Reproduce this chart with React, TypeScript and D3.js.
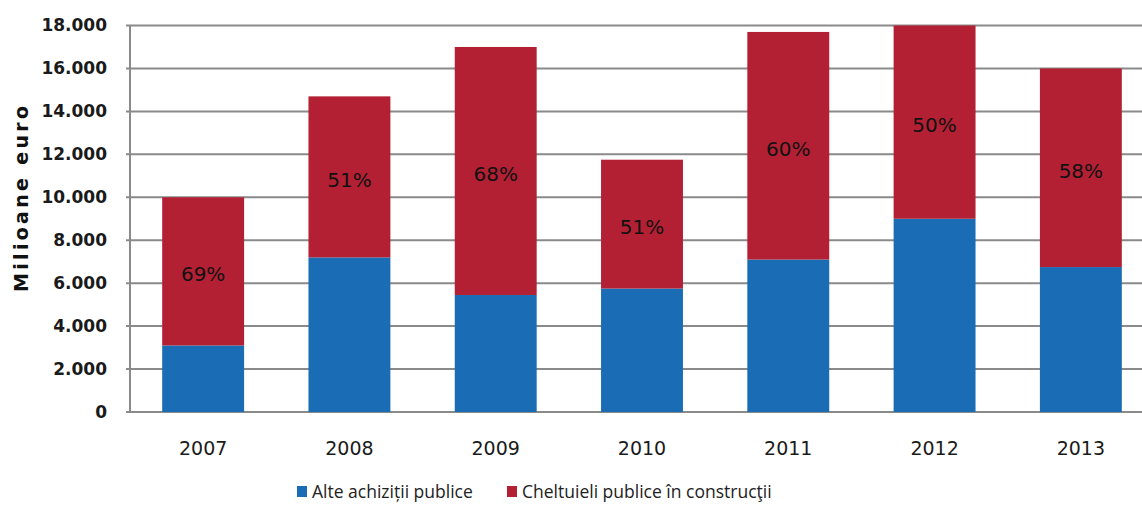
import React from "react";
import * as d3 from "d3";

const years = ["2007", "2008", "2009", "2010", "2011", "2012", "2013"];
const alteAchizitii = [3100, 7200, 5450, 5750, 7100, 9000, 6750];
const totalValues = [10000, 14700, 17000, 11750, 17700, 18000, 16000];
const pctLabels = ["69%", "51%", "68%", "51%", "60%", "50%", "58%"];
const yTicks = [0, 2000, 4000, 6000, 8000, 10000, 12000, 14000, 16000, 18000];
const seriesNames = ["Alte achiziții publice", "Cheltuieli publice în construcţii"];

const W = 1142;
const H = 508;
const BLUE = "#1a6db4";
const RED = "#b32034";

const fmt = (v: number) =>
  v === 0 ? "0" : d3.format(",")(v).replace(/,/g, ".");

export default function App() {
  const left = 130;
  const top = 25.5;
  const bottom = 412;
  const x = d3.scaleBand<string>().domain(years).range([left, 1154]).paddingInner(0.44).paddingOuter(0.22);
  const y = d3.scaleLinear().domain([0, 18000]).range([bottom, top]);
  const bw = x.bandwidth();

  return (
    <svg width={W} height={H} style={{ position: "absolute", left: 0, top: 0, background: "#fff" }}>
      <g>
        {yTicks.map((t) => (
          <g key={t}>
            <line x1={left - 4} x2={W} y1={y(t)} y2={y(t)} stroke="#8a8a8a" strokeWidth={2} />
            <text
              x={107}
              y={y(t)}
              dy="0.35em"
              textAnchor="end"
              fontFamily="DejaVu Sans, sans-serif"
              fontWeight="bold"
              fontSize={17}
              fill="#1a1a1a"
            >
              {fmt(t)}
            </text>
          </g>
        ))}
        <line x1={left} x2={left} y1={top} y2={bottom} stroke="#8a8a8a" strokeWidth={2} />
      </g>
      {years.map((yr, i) => {
        const x0 = x(yr)!;
        const blueTop = y(alteAchizitii[i]);
        const redTop = y(totalValues[i]);
        return (
          <g key={yr}>
            <rect x={x0} y={blueTop} width={bw} height={bottom - blueTop} fill={BLUE} />
            <rect x={x0} y={redTop} width={bw} height={blueTop - redTop} fill={RED} />
            <text
              x={x0 + bw / 2}
              y={(redTop + blueTop) / 2 + 3}
              dy="0.35em"
              textAnchor="middle"
              fontFamily="DejaVu Sans, sans-serif"
              fontSize={20}
              fill="#111"
            >
              {pctLabels[i]}
            </text>
            <text
              x={x0 + bw / 2}
              y={448}
              dy="0.35em"
              textAnchor="middle"
              fontFamily="DejaVu Sans, sans-serif"
              fontSize={19}
              fill="#1a1a1a"
            >
              {yr}
            </text>
          </g>
        );
      })}
      <text
        transform={`translate(21,${(105 + 293) / 2}) rotate(-90)`}
        textAnchor="middle"
        dy="0.35em"
        fontFamily="DejaVu Sans, sans-serif"
        fontWeight="bold"
        fontSize={19}
        textLength={186}
        lengthAdjust="spacing"
        fill="#111"
      >
        Milioane euro
      </text>
      <g fontFamily="Open Sans, sans-serif" fontSize={17.5} fill="#222">
        <rect x={297} y={486} width={10} height={11} fill={BLUE} />
        <text x={312} y={492} dy="0.35em">{seriesNames[0]}</text>
        <rect x={507} y={486} width={10} height={11} fill={RED} />
        <text x={522} y={492} dy="0.35em">{seriesNames[1]}</text>
      </g>
    </svg>
  );
}
